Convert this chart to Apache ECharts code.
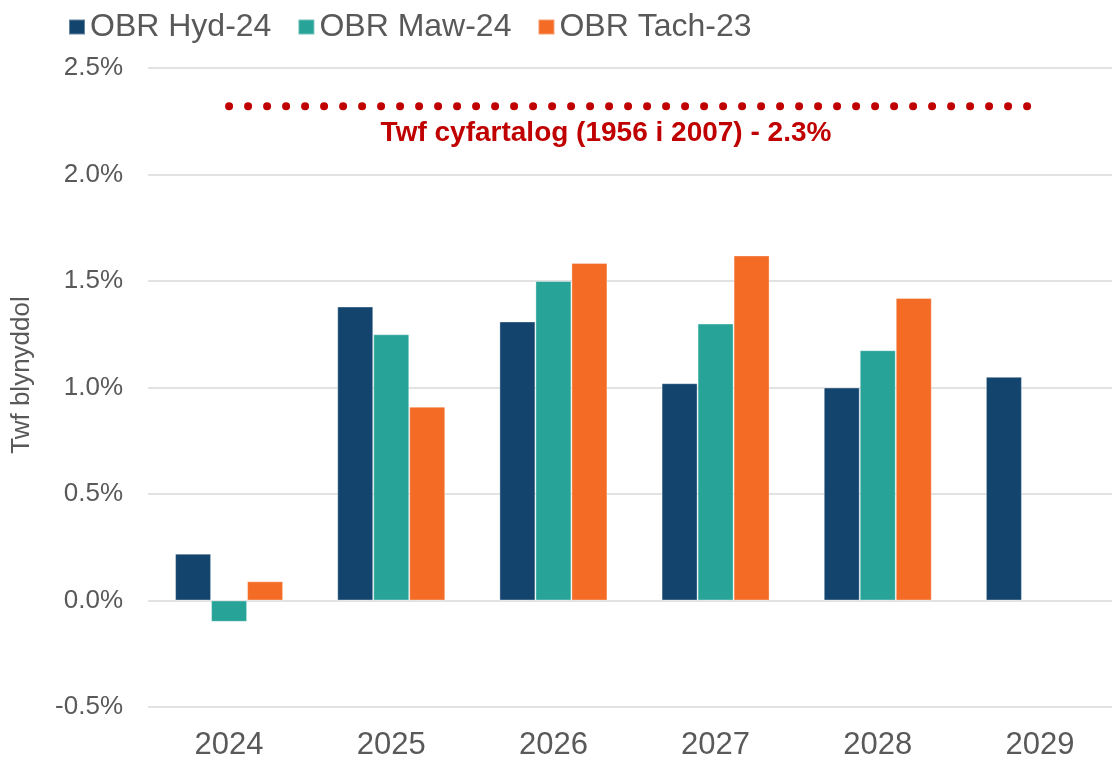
<!DOCTYPE html>
<html>
<head>
<meta charset="utf-8">
<script src="https://cdn.jsdelivr.net/npm/echarts@6/dist/echarts.min.js"></script>
<style>
html,body{margin:0;padding:0;background:#fff;}
#chart{width:1112px;height:760px;}
</style>
</head>
<body>
<div id="chart"></div>
<script>
var categories = ['2024', '2025', '2026', '2027', '2028', '2029'];
var obrHyd24 = [0.22, 1.38, 1.31, 1.02, 1.00, 1.05];
var obrMaw24 = [-0.10, 1.25, 1.50, 1.30, 1.175, null];
var obrTach23 = [0.09, 0.91, 1.585, 1.62, 1.42, null];
var averageGrowth = [2.32, 2.32, 2.32, 2.32, 2.32, 2.32];
var seriesNames = ['OBR Hyd-24', 'OBR Maw-24', 'OBR Tach-23'];
var averageLabel = 'Twf cyfartalog (1956 i 2007) - 2.3%';
var yAxisTitle = 'Twf blynyddol';

var FONT = '"Liberation Sans", Arial, sans-serif';
var TEXT = '#595959';
var colors = ['#13446E', '#27A398', '#F36B24'];

var chart = echarts.init(document.getElementById('chart'), null, {renderer: 'canvas'});

function barSeries(name, data, color) {
  return {
    name: name,
    type: 'bar',
    data: data,
    barWidth: 36,
    barGap: '0%',
    itemStyle: {color: color, borderColor: 'rgba(255,255,255,0.35)', borderWidth: 1},
    emphasis: {disabled: true},
    animation: false
  };
}

chart.setOption({
  animation: false,
  backgroundColor: '#ffffff',
  textStyle: {fontFamily: FONT},
  legend: {
    data: seriesNames,
    left: 63,
    top: 6,
    itemWidth: 16,
    itemHeight: 15,
    itemGap: 26,
    icon: 'rect',
    textStyle: {fontFamily: FONT, fontSize: 32, color: TEXT}
  },
  grid: {left: 148, top: 68, width: 973, height: 639, containLabel: false, outerBoundsMode: 'none'},
  xAxis: {
    type: 'category',
    data: categories,
    position: 'bottom',
    axisLine: {show: false},
    axisTick: {show: false},
    axisLabel: {fontFamily: FONT, fontSize: 31, color: TEXT, margin: 23}
  },
  yAxis: {
    type: 'value',
    min: -0.5,
    max: 2.5,
    interval: 0.5,
    axisLine: {show: false},
    axisTick: {show: false},
    axisLabel: {
      fontFamily: FONT, fontSize: 26, color: TEXT, margin: 25,
      formatter: function (v) { return v.toFixed(1) + '%'; }
    },
    splitLine: {lineStyle: {color: '#D9D9D9', width: 1.5}}
  },
  graphic: [
    {
      type: 'text',
      x: 606, y: 133,
      style: {
        text: averageLabel,
        font: 'bold 28px ' + FONT,
        fill: '#C00000',
        textAlign: 'center',
        textVerticalAlign: 'middle'
      }
    },
    {
      type: 'text',
      x: 22, y: 375,
      rotation: Math.PI / 2,
      style: {
        text: yAxisTitle,
        font: '26px ' + FONT,
        fill: TEXT,
        textAlign: 'center',
        textVerticalAlign: 'middle'
      }
    }
  ],
  series: [
    barSeries(seriesNames[0], obrHyd24, colors[0]),
    barSeries(seriesNames[1], obrMaw24, colors[1]),
    barSeries(seriesNames[2], obrTach23, colors[2]),
    {
      name: 'Twf cyfartalog',
      type: 'line',
      data: averageGrowth,
      showSymbol: false,
      symbol: 'none',
      lineStyle: {color: '#C00000', width: 8, type: [0, 19], cap: 'round'},
      emphasis: {disabled: true},
      z: 5,
      animation: false
    }
  ]
});
</script>
</body>
</html>
